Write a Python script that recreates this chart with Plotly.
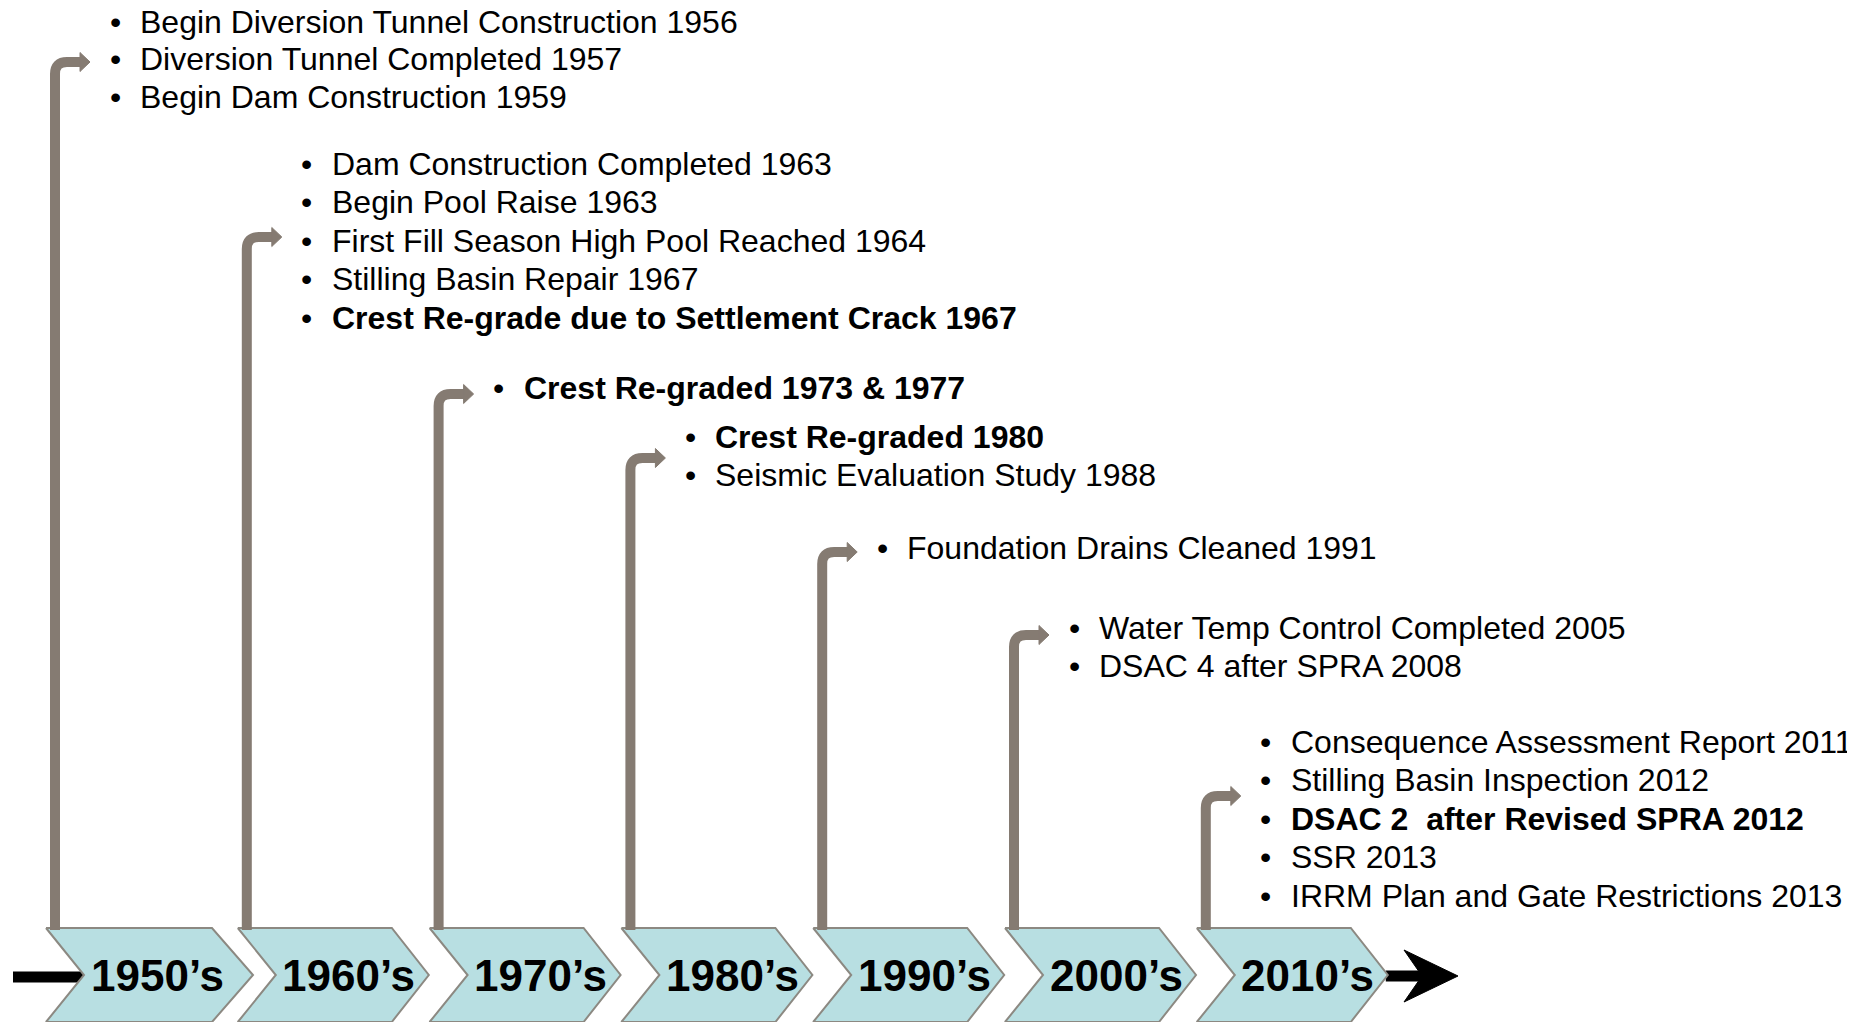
import plotly.graph_objects as go

# timeline content
decades = ["1950’s", "1960’s", "1970’s", "1980’s", "1990’s", "2000’s", "2010’s"]

events = [
    ["Begin Diversion Tunnel Construction 1956",
     "Diversion Tunnel Completed 1957",
     "Begin Dam Construction 1959"],
    ["Dam Construction Completed 1963",
     "Begin Pool Raise 1963",
     "First Fill Season High Pool Reached 1964",
     "Stilling Basin Repair 1967",
     "Crest Re-grade due to Settlement Crack 1967"],
    ["Crest Re-graded 1973 & 1977"],
    ["Crest Re-graded 1980",
     "Seismic Evaluation Study 1988"],
    ["Foundation Drains Cleaned 1991"],
    ["Water Temp Control Completed 2005",
     "DSAC 4 after SPRA 2008"],
    ["Consequence Assessment Report 2011",
     "Stilling Basin Inspection 2012",
     "DSAC 2  after Revised SPRA 2012",
     "SSR 2013",
     "IRRM Plan and Gate Restrictions 2013"],
]

bold = [
    [False, False, False],
    [False, False, False, False, True],
    [True],
    [True, False],
    [False],
    [False, False],
    [False, False, True, False, False],
]

# layout (page pixel coords)
W, H = 1855, 1022
PAGE_MARGIN = 8  # default body margin of the html page
X0, PITCH = 46, 191.8
TOP, MID = 928, 975
first_line_y = [22, 164, 388, 437, 548, 628, 742]
elbow_y = [62, 237, 394, 458, 552, 635, 796]
LINE_GAP = 38.4

FILL = "rgb(184,223,226)"
EDGE = "rgb(140,137,130)"
STEM = "rgb(133,123,114)"
FONT = "Liberation Sans, Arial, sans-serif"

fig = go.Figure()
shapes = []
annotations = []

for i, dec in enumerate(decades):
    x0 = X0 + PITCH * i
    body = 166 if i == 0 else 154
    tip = 207 if i == 0 else 191
    bot = MID + (MID - TOP)
    xs = [x0, x0 + body, x0 + tip, x0 + body, x0, x0 + 38, x0]
    ys = [TOP, TOP, MID, bot, bot, MID, TOP]
    fig.add_trace(go.Scatter(x=xs, y=ys, mode="lines", fill="toself",
                             fillcolor=FILL, line=dict(color=EDGE, width=2),
                             hoverinfo="skip"))
    annotations.append(dict(x=x0 + 111, y=MID, text="<b>" + dec + "</b>",
                            showarrow=False, xanchor="center", yanchor="middle",
                            font=dict(family="Liberation Sans Narrow, Arial Narrow, " + FONT,
                                      size=44, color="black")))

    # elbow arrow
    sx = x0 + 9
    ey = elbow_y[i]
    r = 12
    shapes.append(dict(type="path",
                       path=f"M {sx},{TOP + 2} L {sx},{ey + r} Q {sx},{ey} {sx + r},{ey} L {sx + 26},{ey}",
                       line=dict(color=STEM, width=10), layer="above"))
    shapes.append(dict(type="path",
                       path=f"M {sx + 25},{ey - 9.5} L {sx + 35},{ey} L {sx + 25},{ey + 9.5} Z",
                       fillcolor=STEM, line=dict(color=STEM, width=1), layer="above"))

    # bullet text
    for j, ev in enumerate(events[i]):
        y = first_line_y[i] + LINE_GAP * j
        if i == 0:
            y = first_line_y[i] + (LINE_GAP - 1) * j
        txt = "<b>" + ev + "</b>" if bold[i][j] else ev
        annotations.append(dict(x=x0 + 69, y=y, text="•", showarrow=False,
                                xanchor="center", yanchor="middle",
                                font=dict(family=FONT, size=32, color="black")))
        annotations.append(dict(x=x0 + 92, y=y, text=txt, showarrow=False,
                                xanchor="left", yanchor="middle",
                                font=dict(family=FONT, size=32, color="black")))

# black timeline arrows
shapes.append(dict(type="line", x0=13, y0=977, x1=86, y1=977,
                   line=dict(color="black", width=11), layer="below"))
last_tip = X0 + PITCH * 6 + 191
shapes.append(dict(type="line", x0=last_tip - 2, y0=976, x1=1425, y1=976,
                   line=dict(color="black", width=11), layer="below"))
shapes.append(dict(type="path", path="M 1404,950 L 1458,976 L 1404,1002 L 1422,976 Z",
                   fillcolor="black", line=dict(color="black", width=1)))

fig.update_layout(
    width=W - PAGE_MARGIN, height=H - PAGE_MARGIN,
    margin=dict(l=0, r=0, t=0, b=0),
    paper_bgcolor="white", plot_bgcolor="white",
    showlegend=False,
    xaxis=dict(range=[PAGE_MARGIN, W], visible=False, fixedrange=True),
    yaxis=dict(range=[H, PAGE_MARGIN], visible=False, fixedrange=True),
    shapes=shapes,
    annotations=annotations,
)

fig.write_html("out.html")
